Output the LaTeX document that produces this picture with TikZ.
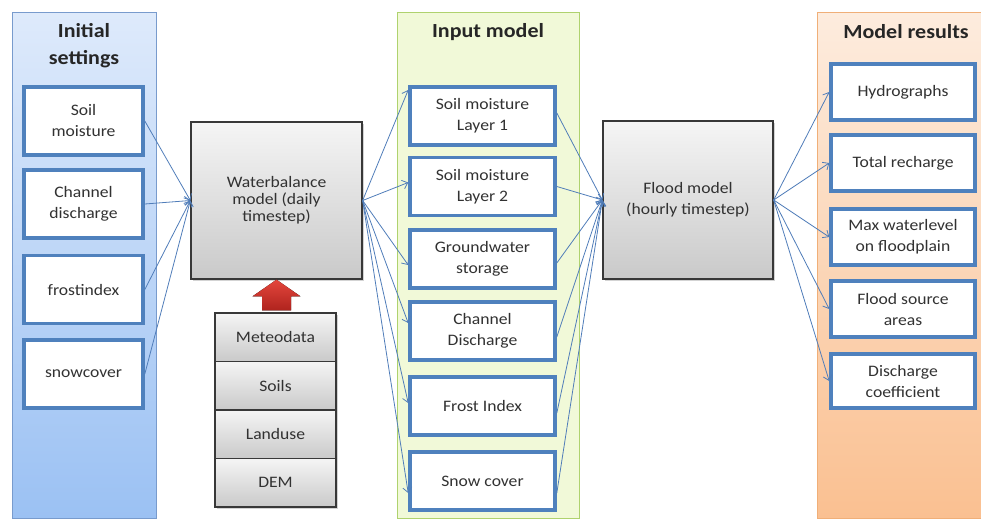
\documentclass[tikz,border=0pt]{standalone}
\usepackage{fontspec}
\setmainfont{Carlito}[FakeStretch=1.1]
\usetikzlibrary{arrows.meta,calc,shadows}
\definecolor{boxblue}{RGB}{79,129,189}
\definecolor{linkblue}{RGB}{80,125,185}
\definecolor{txt}{RGB}{50,50,50}
\definecolor{lpanTop}{RGB}{222,234,251}
\definecolor{lpanBot}{RGB}{155,193,243}
\definecolor{lpanDraw}{RGB}{120,155,205}
\definecolor{gpanFill}{RGB}{241,249,216}
\definecolor{gpanDraw}{RGB}{175,210,110}
\definecolor{opanTop}{RGB}{253,236,222}
\definecolor{opanBot}{RGB}{250,192,145}
\definecolor{opanDraw}{RGB}{240,175,120}
\definecolor{redTop}{RGB}{228,70,60}
\definecolor{redBot}{RGB}{175,35,30}
\begin{document}
\begin{tikzpicture}[x=1pt,y=-1pt,
  panel/.style={line width=1pt},
  ibox/.style={draw=boxblue, line width=3.6pt, fill=white, text=txt, align=center,
    inner sep=0pt, font=\fontsize{16}{21}\selectfont},
  lbox/.style={ibox, minimum width=119, minimum height=68},
  mbox/.style={ibox, minimum width=145, minimum height=58},
  rbox/.style={ibox, minimum width=144, minimum height=56},
  gbox/.style={draw=black!78, line width=1.3pt, top color=gray!8, bottom color=gray!42,
    text=txt, align=center, inner sep=0pt,
    drop shadow={opacity=0.35, shadow xshift=2pt, shadow yshift=-2pt}},
  sbox/.style={gbox, minimum width=121, minimum height=48.5, font=\fontsize{16}{20}\selectfont},
  ttl/.style={font=\bfseries\fontsize{20}{27}\selectfont, text=black!85, align=center},
  conn/.style={draw=linkblue, line width=0.8pt, -{Straight Barb[length=5pt,width=9pt]}}
]
\useasboundingbox (0,0) rectangle (981,522);
% panels
\path[panel, draw=lpanDraw, top color=lpanTop, bottom color=lpanBot] (12,12) rectangle (156,518);
\path[panel, draw=gpanDraw, fill=gpanFill] (397,12) rectangle (579,518);
\path[panel, draw=opanDraw, top color=opanTop, bottom color=opanBot] (817,12) rectangle (985,518);
% titles
\node[ttl] (t1) at (84,46) {Initial\\settings};
\node[ttl] (t2) at (488,32) {Input model};
\node[ttl] (t3) at (906,32) {Model results};
% left boxes
\node[lbox] (s1) at (83.5,121) {Soil\\moisture};
\node[lbox] (s2) at (83.5,204) {Channel\\discharge};
\node[lbox] (s3) at (83.5,289.5) {frostindex};
\node[lbox] (s4) at (83.5,374) {snowcover};
% waterbalance
\node[gbox, minimum width=171, minimum height=157, font=\fontsize{16}{17}\selectfont] (wb) at (276.5,200.5) {Waterbalance\\model (daily\\timestep)};
% data stack
\node[sbox] (d1) at (275.5,337.25) {Meteodata};
\node[sbox] (d2) at (275.5,385.75) {Soils};
\node[sbox] (d3) at (275.5,434.25) {Landuse};
\node[sbox] (d4) at (275.5,482.75) {DEM};
% red arrow
\fill[top color=redTop, bottom color=redBot]
  ($(d1.north)+(-13.5,-2)$) -- ($(d1.north)+(-13.5,-16)$) -- ($(d1.north)+(-23,-16)$)
  -- (wb.south) -- ($(d1.north)+(25,-16)$) -- ($(d1.north)+(15.5,-16)$)
  -- ($(d1.north)+(15.5,-2)$) -- cycle;
% input model boxes
\node[mbox] (m1) at (482.5,116) {Soil moisture\\Layer 1};
\node[mbox] (m2) at (482.5,186.5) {Soil moisture\\Layer 2};
\node[mbox] (m3) at (482.5,259) {Groundwater\\storage};
\node[mbox] (m4) at (482.5,331) {Channel\\Discharge};
\node[mbox] (m5) at (482.5,406) {Frost Index};
\node[mbox] (m6) at (482.5,481) {Snow cover};
% flood model
\node[gbox, minimum width=170, minimum height=158, font=\fontsize{16}{21}\selectfont] (fm) at (688,200) {Flood model\\(hourly timestep)};
% result boxes
\node[rbox] (r1) at (903,92) {Hydrographs};
\node[rbox] (r2) at (903,163) {Total recharge};
\node[rbox] (r3) at (903,237) {Max waterlevel\\on floodplain};
\node[rbox] (r4) at (903,309) {Flood source\\areas};
\node[rbox, minimum height=54] (r5) at (903,381) {Discharge\\coefficient};
% connectors: initial settings -> waterbalance
\foreach \s in {s1,s2,s3,s4} \draw[conn] (\s.east) -- (wb.west);
% waterbalance -> input model
\draw[conn] (wb.east) -- ([yshift=26pt]m1.west);
\draw[conn] (wb.east) -- ([yshift=4pt]m2.west);
\draw[conn] (wb.east) -- ([yshift=-6pt]m3.west);
\draw[conn] (wb.east) -- ([yshift=8pt]m4.west);
\draw[conn] (wb.east) -- ([yshift=3pt]m5.west);
\draw[conn] (wb.east) -- ([yshift=-12pt]m6.west);
% input model -> flood model
\draw[conn] ([yshift=3pt]m1.east) -- (fm.west);
\draw[conn] (m2.east) -- (fm.west);
\draw[conn] ([yshift=-4pt]m3.east) -- (fm.west);
\draw[conn] ([yshift=-6pt]m4.east) -- (fm.west);
\draw[conn] ([yshift=-7pt]m5.east) -- (fm.west);
\draw[conn] ([yshift=-12pt]m6.east) -- (fm.west);
% flood model -> results
\foreach \r in {r1,r2,r3,r4,r5} \draw[conn] (fm.east) -- (\r.west);
\end{tikzpicture}
\end{document}
